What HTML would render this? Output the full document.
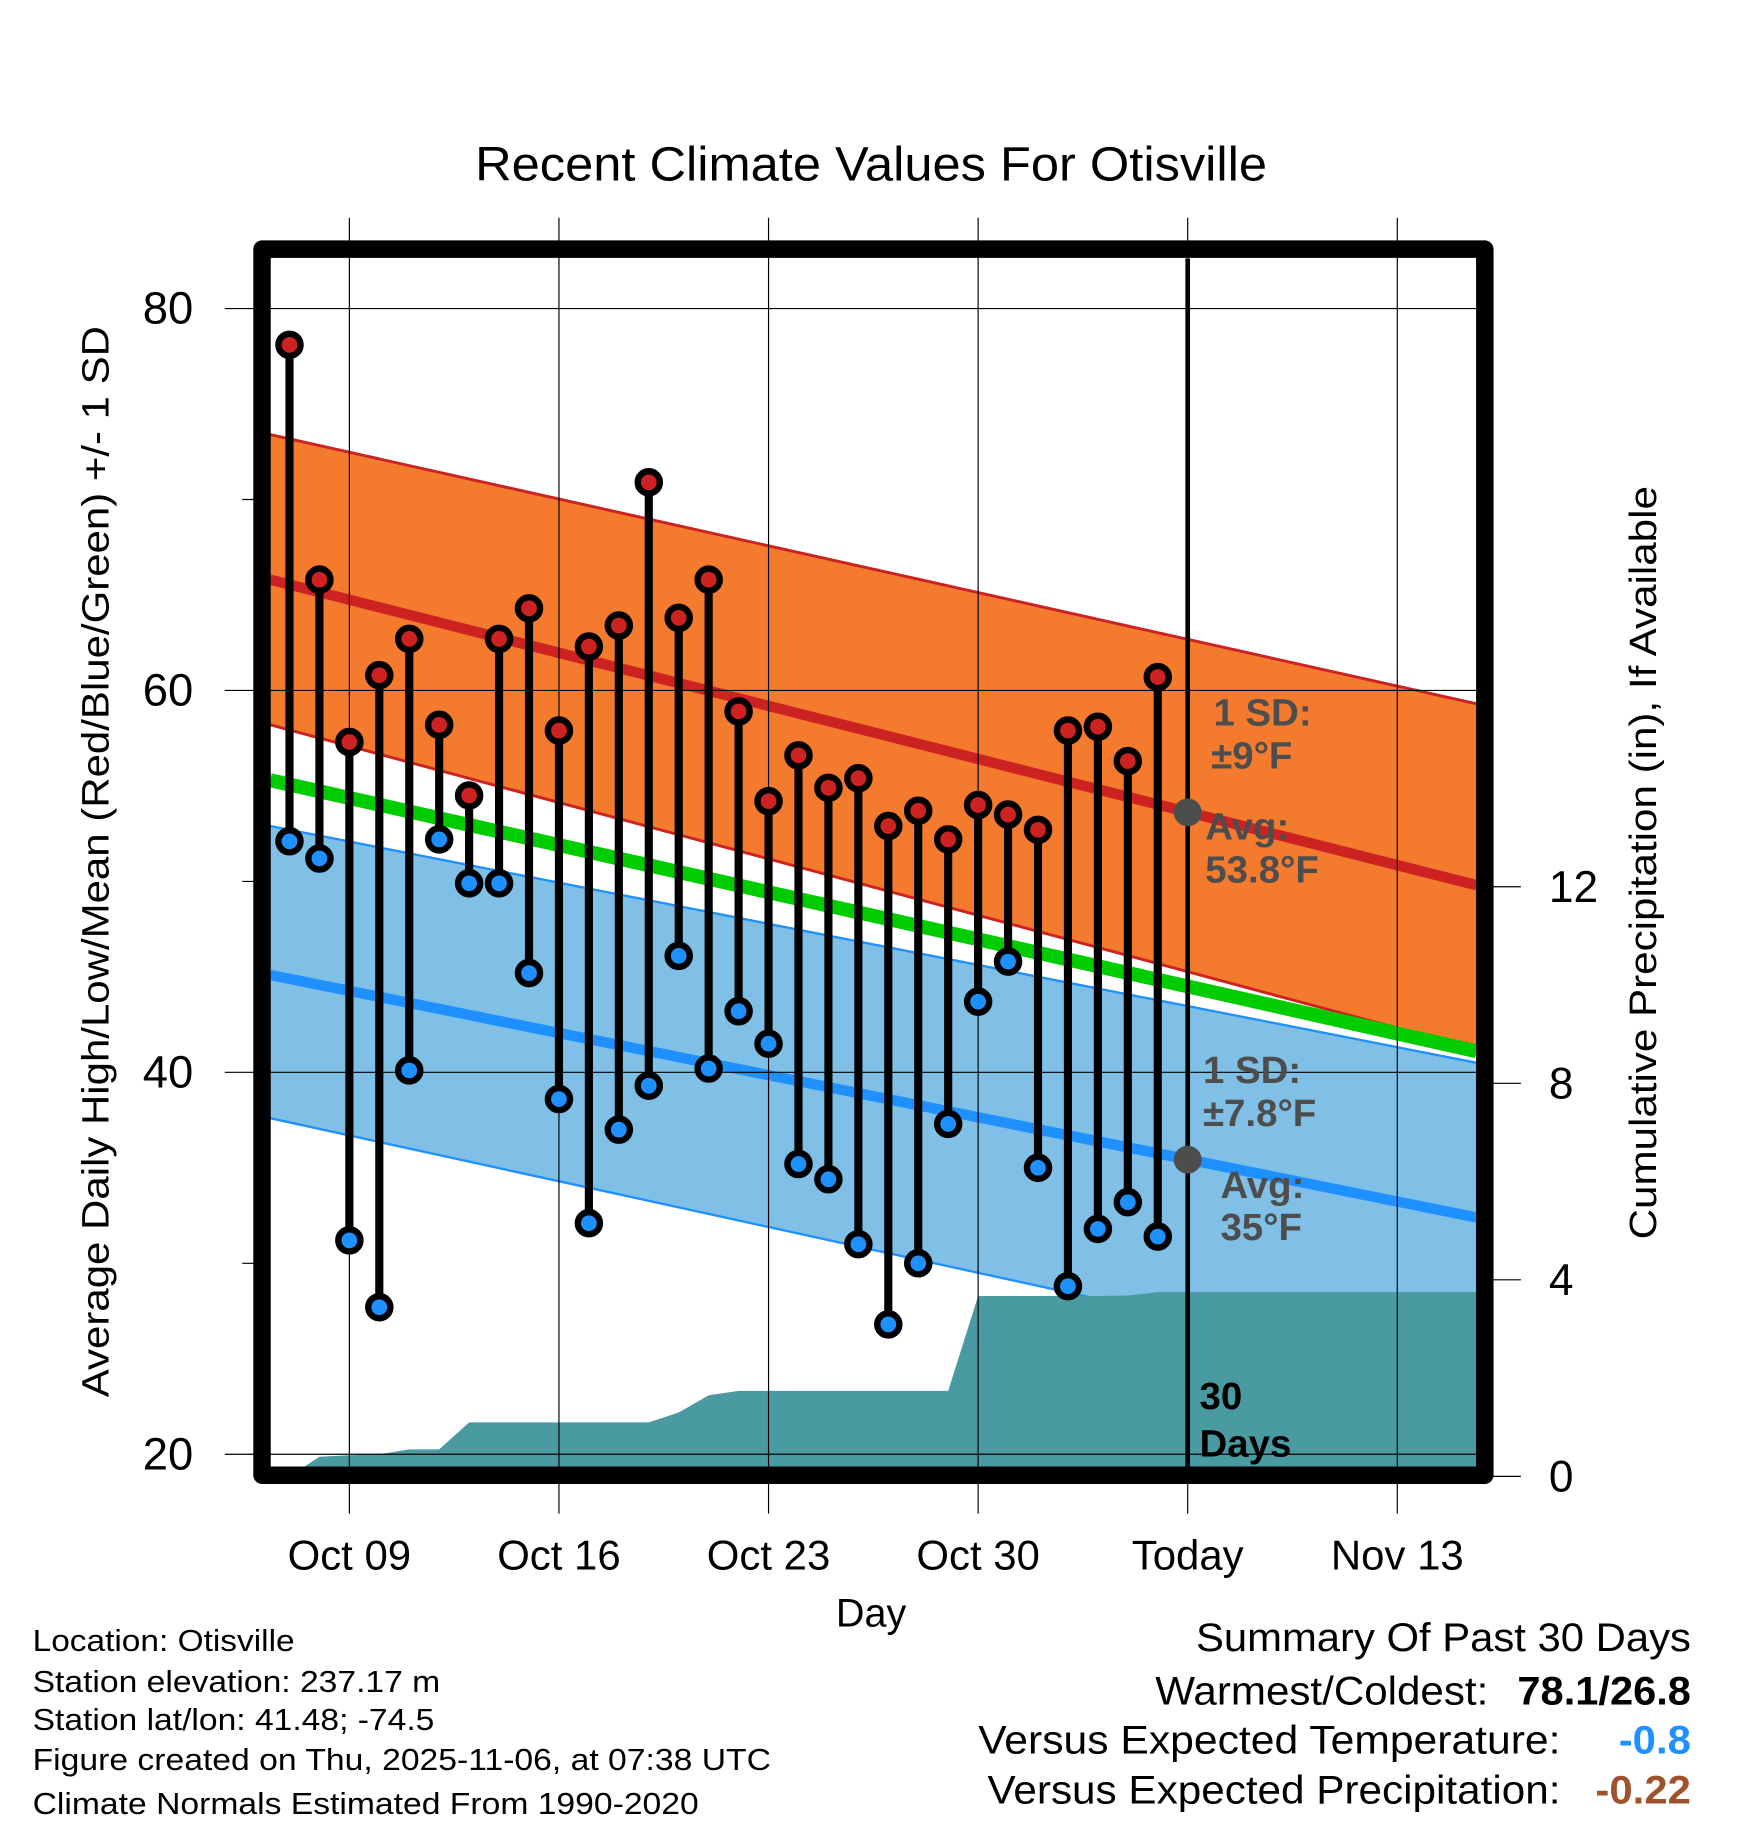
<!DOCTYPE html>
<html><head><meta charset="utf-8"><style>
html,body{margin:0;padding:0;background:#fff}
svg{display:block}
text{font-family:"Liberation Sans",sans-serif}
</style></head><body>
<svg id="chart" width="1748" height="1828" viewBox="0 0 1501 1570" preserveAspectRatio="none" xmlns="http://www.w3.org/2000/svg">
<defs><clipPath id="plotclip"><rect x="232" y="222" width="1036" height="1038"/></clipPath></defs>
<g id="bands" clip-path="url(#plotclip)"></g>
<g id="grid"></g>
<g id="marks"></g>
<g id="axes"></g>
<text x="408" y="155" font-size="41" textLength="680" lengthAdjust="spacingAndGlyphs">Recent Climate Values For Otisville</text>
<text transform="translate(93,740) rotate(-90)" text-anchor="middle" font-size="33" textLength="920" lengthAdjust="spacingAndGlyphs">Average Daily High/Low/Mean (Red/Blue/Green) +/- 1 SD</text>
<text transform="translate(1422,741) rotate(-90)" text-anchor="middle" font-size="33" textLength="647" lengthAdjust="spacingAndGlyphs">Cumulative Precipitation (in), If Available</text>
<text x="748" y="1397" text-anchor="middle" font-size="34">Day</text>
<g font-size="26">
<text x="28" y="1418" textLength="225" lengthAdjust="spacingAndGlyphs">Location: Otisville</text>
<text x="28" y="1453" textLength="350" lengthAdjust="spacingAndGlyphs">Station elevation: 237.17 m</text>
<text x="28" y="1486" textLength="345" lengthAdjust="spacingAndGlyphs">Station lat/lon: 41.48; -74.5</text>
<text x="28" y="1520" textLength="634" lengthAdjust="spacingAndGlyphs">Figure created on Thu, 2025-11-06, at 07:38 UTC</text>
<text x="28" y="1558" textLength="572" lengthAdjust="spacingAndGlyphs">Climate Normals Estimated From 1990-2020</text>
</g>
<g font-size="34">
<text x="1027" y="1418" textLength="425" lengthAdjust="spacingAndGlyphs">Summary Of Past 30 Days</text>
<text x="992" y="1464" textLength="286" lengthAdjust="spacingAndGlyphs">Warmest/Coldest:</text>
<text x="1303" y="1464" font-weight="bold" textLength="149" lengthAdjust="spacingAndGlyphs">78.1/26.8</text>
<text x="840" y="1506" textLength="500" lengthAdjust="spacingAndGlyphs">Versus Expected Temperature:</text>
<text x="1390" y="1506" font-weight="bold" fill="#1e90ff" textLength="62" lengthAdjust="spacingAndGlyphs">-0.8</text>
<text x="848" y="1549" textLength="492" lengthAdjust="spacingAndGlyphs">Versus Expected Precipitation:</text>
<text x="1370" y="1549" font-weight="bold" fill="#a0522d" textLength="82" lengthAdjust="spacingAndGlyphs">-0.22</text>
</g>
</svg>
<script>
const dayLabels=["Oct 07","Oct 08","Oct 09","Oct 10","Oct 11","Oct 12","Oct 13","Oct 14","Oct 15","Oct 16","Oct 17","Oct 18","Oct 19","Oct 20","Oct 21","Oct 22","Oct 23","Oct 24","Oct 25","Oct 26","Oct 27","Oct 28","Oct 29","Oct 30","Oct 31","Nov 01","Nov 02","Nov 03","Nov 04","Nov 05"];
const highs=[78.1,65.8,57.3,60.8,62.7,58.2,54.5,62.7,64.3,57.9,62.3,63.4,70.9,63.8,65.8,58.9,54.2,56.6,54.9,55.4,52.9,53.7,52.2,54.0,53.5,52.7,57.9,58.1,56.3,60.7];
const lows=[52.1,51.2,31.2,27.7,40.1,52.2,49.9,49.9,45.2,38.6,32.1,37.0,39.3,46.1,40.2,43.2,41.5,35.2,34.4,31.0,26.8,30.0,37.3,43.7,45.8,35.0,28.8,31.8,33.2,31.4];
const precip=[0,0.4,0.43,0.45,0.55,0.55,1.1,1.1,1.1,1.1,1.1,1.1,1.1,1.3,1.65,1.74,1.74,1.74,1.74,1.74,1.74,1.74,1.74,3.67,3.67,3.67,3.67,3.67,3.68,3.75];
const normHighStart=[73.4,65.8,58.2];
const normHighEnd=[59.3,49.8,41.2];
const normLowStart=[52.9,45.1,37.6];
const normLowEnd=[40.5,32.4,23.8];
const normMean=[55.3,41.1];
const xTickLabels=["Oct 09","Oct 16","Oct 23","Oct 30","Today","Nov 13"];
const xTickDays=[0,7,14,21,28,35];
const yTicks=[20,40,60,80];
const yMinor=[30,50,70];
const pTicks=[0,4,8,12];

const NS="http://www.w3.org/2000/svg";
const X0=232,X1=1268;
const DL=-2.67,DR=37.6;
const x=d=>300+25.71*d;
const y=v=>265+(80-v)*16.4;
const yp=p=>1268-42.2*p;
function el(parent,tag,attrs){const e=document.createElementNS(NS,tag);for(const k in attrs)e.setAttribute(k,attrs[k]);parent.appendChild(e);return e;}
const bands=document.getElementById('bands'),grid=document.getElementById('grid'),marks=document.getElementById('marks'),axes=document.getElementById('axes');
const lin=(a,b)=>d=>a+(b-a)*(d-DL)/(DR-DL);
function band(top,bot,fill,name){
  const p=el(bands,'polygon',{points:`${X0},${y(top(DL))} ${X1},${y(top(DR))} ${X1},${y(bot(DR))} ${X0},${y(bot(DL))}`,fill:fill});
  
  
}
function line(f,color,w,name){
  const l=el(bands,'line',{x1:X0,y1:y(f(DL)),x2:X1,y2:y(f(DR)),stroke:color,'stroke-width':w});
  
  
}
const hU=lin(normHighStart[0],normHighEnd[0]),hA=lin(normHighStart[1],normHighEnd[1]),hL=lin(normHighStart[2],normHighEnd[2]);
const lU=lin(normLowStart[0],normLowEnd[0]),lA=lin(normLowStart[1],normLowEnd[1]),lL=lin(normLowStart[2],normLowEnd[2]);
const mA=lin(normMean[0],normMean[1]);
band(lU,lL,'#80c0e6','low-sd-band');
line(lU,'#1e90ff',2,'low-sd-upper');line(lL,'#1e90ff',2,'low-sd-lower');
line(lA,'#1e90ff',9,'normal-low-line');
band(hU,hL,'#f47a2e','high-sd-band');
line(hU,'#cc2222',2.5,'high-sd-upper');line(hL,'#cc2222',2.5,'high-sd-lower');
line(hA,'#cc2222',9,'normal-high-line');
line(mA,'#00cc00',12,'normal-mean-line');
let pts=`${x(-2.45)},${yp(0)} `;
precip.forEach((p,i)=>{pts+=`${x(i-2)},${yp(p)} `;});
pts+=`${X1},${yp(precip[precip.length-1])} ${X1},1262 ${x(-2.45)},1262`;
const pa=el(bands,'polygon',{points:pts,fill:'#4a9aa2'});


yTicks.forEach(v=>{
  const g=el(grid,'line',{x1:X0,y1:y(v),x2:X1,y2:y(v),stroke:'#000','stroke-width':1});
  
  
  const t=el(axes,'line',{x1:193,y1:y(v),x2:225,y2:y(v),stroke:'#000','stroke-width':1});
  
  
  const tx=el(axes,'text',{x:166,y:y(v)+13,'text-anchor':'end','font-size':39});
  tx.textContent=v;
  
  
});
yMinor.forEach(v=>{
  const t=el(axes,'line',{x1:208,y1:y(v),x2:225,y2:y(v),stroke:'#000','stroke-width':1});
  
  
});
pTicks.forEach(p=>{
  const t=el(axes,'line',{x1:1275,y1:yp(p),x2:1306,y2:yp(p),stroke:'#000','stroke-width':1});
  
  
  const tx=el(axes,'text',{x:1330,y:yp(p)+13,'font-size':38});
  tx.textContent=p;
  
  
});
xTickDays.forEach((d,i)=>{
  const g=el(grid,'line',{x1:x(d),y1:187,x2:x(d),y2:1260,stroke:'#000','stroke-width':1});
  
  
  const t=el(axes,'line',{x1:x(d),y1:1267,x2:x(d),y2:1300,stroke:'#000','stroke-width':1});
  
  
  const tx=el(axes,'text',{x:x(d),y:1348,'text-anchor':'middle','font-size':36});
  tx.textContent=xTickLabels[i];
  
  
});
const tl=el(marks,'line',{x1:x(28),y1:222,x2:x(28),y2:1262,stroke:'#000','stroke-width':4});


const ann=[["1 SD:",1042,623,'#4d4d4d'],["±9°F",1040,660,'#4d4d4d'],["Avg:",1035,721,'#4d4d4d'],["53.8°F",1035,758,'#4d4d4d'],
["1 SD:",1033,930,'#4d4d4d'],["±7.8°F",1033,967,'#4d4d4d'],["Avg:",1048,1029,'#4d4d4d'],["35°F",1048,1065,'#4d4d4d'],
["30",1030,1210,'#000'],["Days",1030,1251,'#000']];
ann.forEach(a=>{
  const t=el(marks,'text',{x:a[1],y:a[2],'font-size':33,'font-weight':'bold',fill:a[3]});
  t.textContent=a[0];
  
  
});
[hA(28),lA(28)].forEach(v=>{
  const c=el(marks,'circle',{cx:x(28),cy:y(v),r:12,fill:'#4d4d4d'});
  
  
});
highs.forEach((h,i)=>{
  const d=i-2;
  const s=el(marks,'line',{x1:x(d),y1:y(h),x2:x(d),y2:y(lows[i]),stroke:'#000','stroke-width':7});
  
  
  const ch=el(marks,'circle',{cx:x(d),cy:y(h),r:9.5,fill:'#cc2222',stroke:'#000','stroke-width':5.5});
  
  
  const cl=el(marks,'circle',{cx:x(d),cy:y(lows[i]),r:9.5,fill:'#1e90ff',stroke:'#000','stroke-width':5.5});
  
  
});
const fr=el(axes,'rect',{x:225,y:214,width:1050,height:1053,fill:'none',stroke:'#000','stroke-width':15,'stroke-linejoin':'round'});


</script>
</body></html>
